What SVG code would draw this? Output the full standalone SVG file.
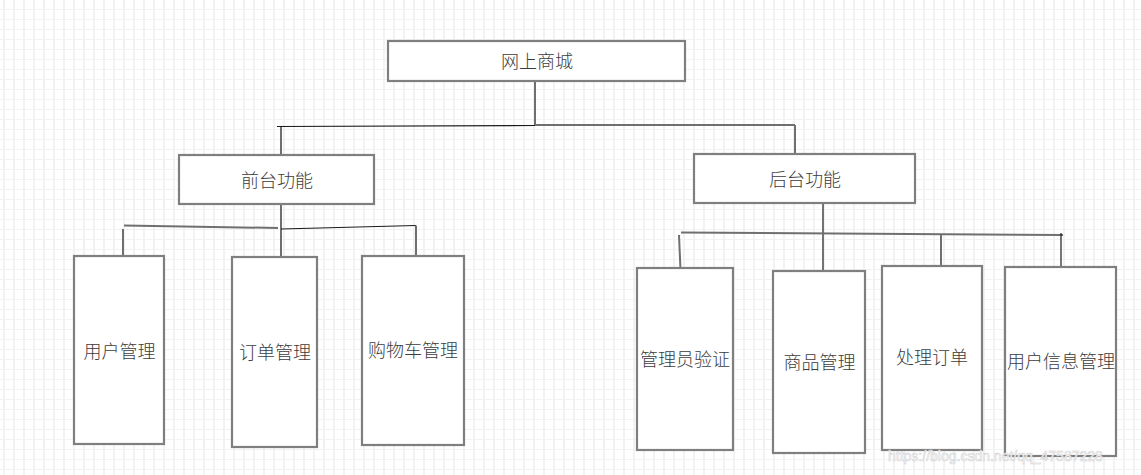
<svg xmlns="http://www.w3.org/2000/svg" width="1141" height="475" viewBox="0 0 1141 475">
<style>
.box{fill:#ffffff;stroke:#7f7f7f;stroke-width:2.2}
.lbl{font-family:"Noto Sans CJK SC","Liberation Sans",sans-serif;font-size:18px;fill:#3c3c3c;text-anchor:middle;font-weight:300}
.cg{stroke:#6f6f6f;stroke-width:2;fill:none}
.cb{stroke:#1a1a1a;stroke-width:1.2;fill:none}
.wm{font-family:"Liberation Sans",Arial,sans-serif;font-size:14px;fill:#ffffff;stroke:#d4d4d4;stroke-width:0.6}
</style>
<defs>
<pattern id="grid" patternUnits="userSpaceOnUse" width="10" height="10">
<rect width="10" height="10" fill="#ffffff"/>
<rect x="3" y="0" width="2" height="10" fill="#f2f2f2"/>
<rect x="0" y="9" width="10" height="2" fill="#f2f2f2"/>
</pattern>
</defs>
<rect width="1141" height="475" fill="url(#grid)"/>
<g id="connectors">
<line class="cg" x1="535" y1="81" x2="535" y2="125"/>
<line class="cb" x1="277" y1="126.5" x2="535" y2="125.5"/>
<line class="cg" x1="535" y1="125" x2="795" y2="125"/>
<line class="cg" x1="795" y1="125" x2="795" y2="154"/>
<line class="cg" x1="281" y1="127" x2="281" y2="155"/>
<line class="cg" x1="281" y1="204" x2="281" y2="258"/>
<line class="cg" x1="124" y1="225.5" x2="278" y2="228"/>
<line class="cb" x1="281" y1="229" x2="416" y2="225.5"/>
<line class="cg" x1="123" y1="229" x2="123" y2="256"/>
<line class="cg" x1="416" y1="225.5" x2="416" y2="260"/>
<line class="cb" x1="823" y1="203" x2="823" y2="273"/>
<line class="cg" x1="681" y1="232.5" x2="1063" y2="235"/>
<line class="cg" x1="679" y1="235" x2="680.5" y2="270"/>
<line class="cg" x1="941" y1="234" x2="941" y2="267"/>
<line class="cb" x1="1061" y1="233" x2="1061" y2="267"/>
</g>
<g id="root">
<rect class="box" x="388" y="41" width="297" height="40"/>
<text class="lbl" x="537" y="68">网上商城</text>
</g>
<g id="front">
<rect class="box" x="179" y="155" width="195" height="49"/>
<text class="lbl" x="277" y="187">前台功能</text>
</g>
<g id="back">
<rect class="box" x="694" y="154" width="221" height="49"/>
<text class="lbl" x="805" y="186">后台功能</text>
</g>
<g id="user">
<rect class="box" x="74" y="256" width="90" height="188"/>
<text class="lbl" x="119.5" y="358">用户管理</text>
</g>
<g id="order">
<rect class="box" x="232" y="257" width="85" height="190"/>
<text class="lbl" x="275" y="359">订单管理</text>
</g>
<g id="cart">
<rect class="box" x="362" y="256" width="102" height="189"/>
<text class="lbl" x="413" y="357">购物车管理</text>
</g>
<g id="admin">
<rect class="box" x="637" y="268" width="96" height="182"/>
<text class="lbl" x="685" y="366">管理员验证</text>
</g>
<g id="goods">
<rect class="box" x="773" y="271" width="92" height="182"/>
<text class="lbl" x="819.5" y="369">商品管理</text>
</g>
<g id="handle">
<rect class="box" x="882" y="266" width="100" height="184"/>
<text class="lbl" x="932" y="364">处理订单</text>
</g>
<g id="userinfo">
<rect class="box" x="1005" y="267" width="111" height="189"/>
<text class="lbl" x="1061" y="368">用户信息管理</text>
</g>
<text class="wm" x="888" y="461">https://blog.csdn.net/qq_47587228</text>
</svg>
